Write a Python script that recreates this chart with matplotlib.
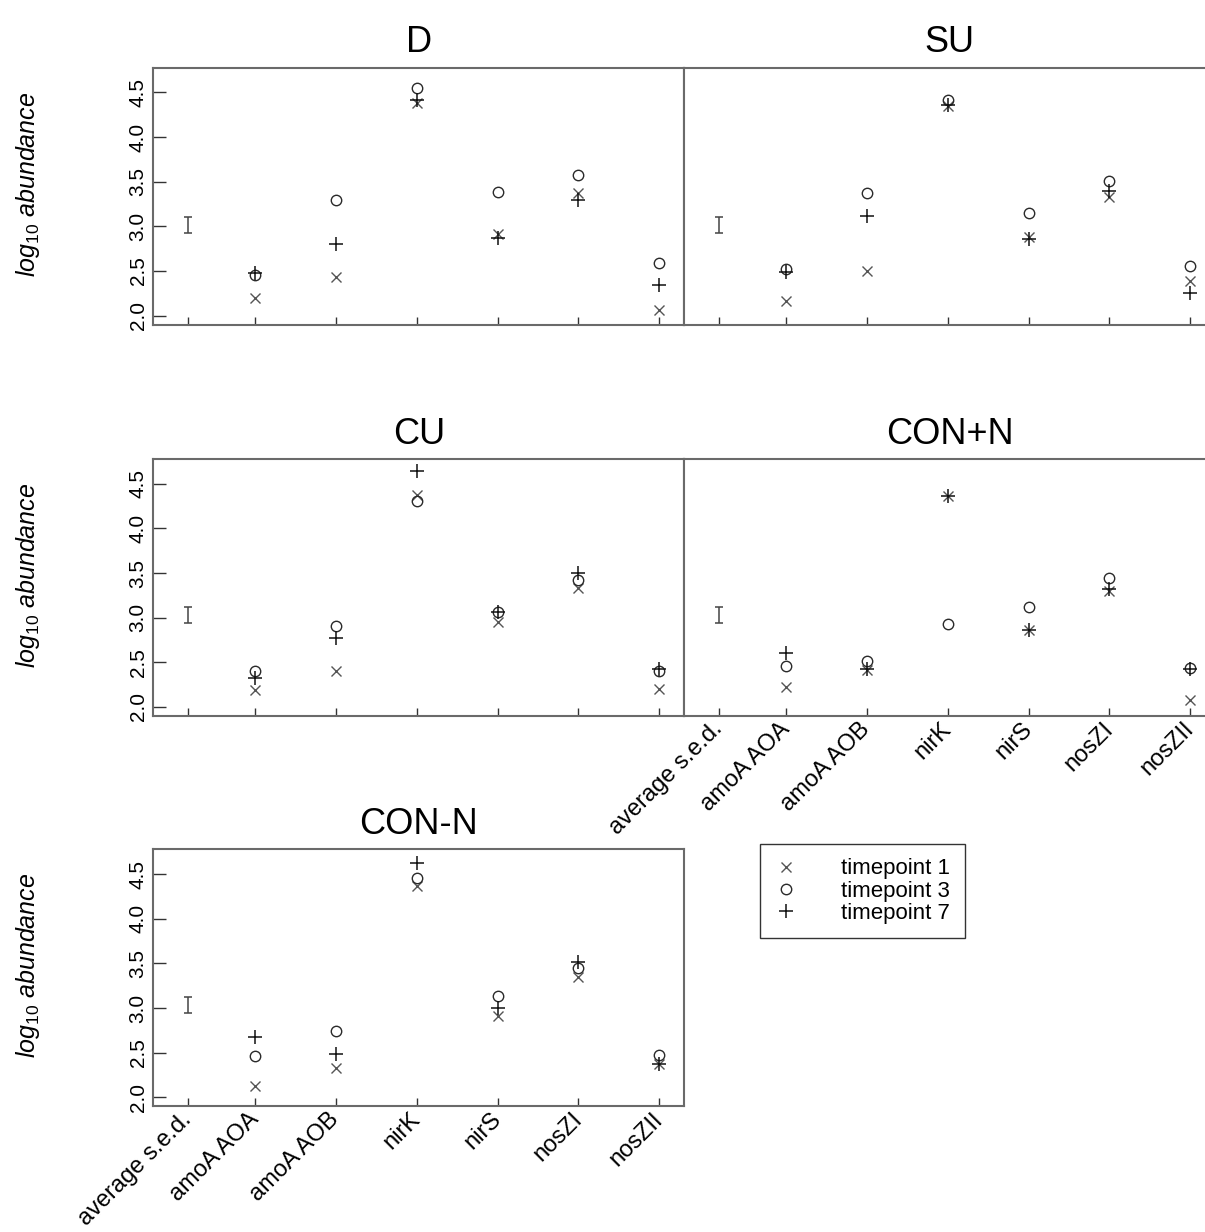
import matplotlib
matplotlib.use('Agg')
import matplotlib.pyplot as plt
from matplotlib.lines import Line2D

plt.rcParams['font.family'] = ['Liberation Sans', 'DejaVu Sans']
plt.rcParams['mathtext.fontset'] = 'custom'
plt.rcParams['mathtext.it'] = 'Liberation Sans:italic'
plt.rcParams['mathtext.rm'] = 'Liberation Sans'

# data
genes = ['average s.e.d.', 'amoA AOA', 'amoA AOB', 'nirK', 'nirS', 'nosZI', 'nosZII']
xpos = [0.175, 1, 2, 3, 4, 5, 6]
panels = ['D', 'SU', 'CU', 'CON+N', 'CON-N']
sed_mid = [3.02, 3.02, 3.03, 3.03, 3.03]
sed_half = [0.09, 0.09, 0.09, 0.09, 0.09]

d_t1 = [2.20, 2.43, 4.38, 2.92, 3.37, 2.06]
d_t3 = [2.455, 3.29, 4.545, 3.39, 3.575, 2.586]
d_t7 = [2.48, 2.80, 4.41, 2.87, 3.295, 2.34]

su_t1 = [2.17, 2.50, 4.35, 2.88, 3.33, 2.39]
su_t3 = [2.52, 3.37, 4.41, 3.15, 3.51, 2.56]
su_t7 = [2.485, 3.12, 4.36, 2.86, 3.40, 2.25]

cu_t1 = [2.19, 2.40, 4.37, 2.95, 3.33, 2.205]
cu_t3 = [2.40, 2.91, 4.31, 3.06, 3.42, 2.40]
cu_t7 = [2.32, 2.77, 4.64, 3.06, 3.50, 2.43]

conp_t1 = [2.22, 2.41, 4.36, 2.86, 3.30, 2.08]
conp_t3 = [2.455, 2.51, 2.93, 3.12, 3.44, 2.44]
conp_t7 = [2.60, 2.42, 4.36, 2.86, 3.32, 2.42]

conm_t1 = [2.13, 2.33, 4.37, 2.91, 3.35, 2.37]
conm_t3 = [2.46, 2.74, 4.46, 3.13, 3.45, 2.47]
conm_t7 = [2.68, 2.49, 4.62, 3.00, 3.51, 2.37]

series = [(d_t1, d_t3, d_t7), (su_t1, su_t3, su_t7), (cu_t1, cu_t3, cu_t7),
          (conp_t1, conp_t3, conp_t7), (conm_t1, conm_t3, conm_t7)]
legend_labels = ['timepoint 1', 'timepoint 3', 'timepoint 7']
yticks = [2.0, 2.5, 3.0, 3.5, 4.0, 4.5]

W, H = 1205, 1232
fig = plt.figure(figsize=(W / 100, H / 100), dpi=100)

# panel boxes in pixels: left, top
boxes = [(153.3, 67.7), (684.3, 67.7), (153.3, 459), (684.3, 459), (153.3, 849.3)]
bw, bh = 531, 257
show_ylab = [True, False, True, False, True]
show_xlab = [False, False, False, True, True]

edge = '#6a6a6a'
styles = [dict(marker='x', color='#555555', ms=7, mew=1.0),
          dict(marker='o', mfc='none', mec='#2a2a2a', ms=7.5, mew=1.0),
          dict(marker='+', color='#111111', ms=10, mew=1.1)]

for i, name in enumerate(panels):
    l, t = boxes[i]
    ax = fig.add_axes([l / W, 1 - (t + bh) / H, bw / W, bh / H])
    ax.set_xlim(-0.258, 6.309)
    ax.set_ylim(1.899, 4.777)
    for vals, st in zip(series[i], styles):
        ax.plot(xpos[1:], vals, ls='none', **st)
    ax.errorbar([xpos[0]], [sed_mid[i]], yerr=[sed_half[i]], fmt='none',
                ecolor='#444444', elinewidth=1.1, capsize=3, capthick=1.1)
    for s in ax.spines.values():
        s.set_color(edge)
        s.set_linewidth(1.5)
    ax.set_xticks(xpos)
    ax.tick_params(axis='x', direction='in', length=5.8, width=1.0, color='#333333')
    if show_xlab[i]:
        ax.set_xticklabels(genes, rotation=45, ha='right', va='center',
                           rotation_mode='anchor', fontsize=17)
        ax.tick_params(axis='x', pad=7)
    else:
        ax.set_xticklabels([])
    if show_ylab[i]:
        ax.set_yticks(yticks)
        ax.set_yticklabels(['%.1f' % v for v in yticks], rotation=90, va='center', fontsize=15)
        ax.tick_params(axis='y', direction='in', length=9.4, width=1.0, color='#333333', pad=4)
        fig.text(28 / W, 1 - (t + bh / 2 - 12) / H, r'$log_{10}\ abundance$',
                 rotation=90, ha='center', va='center', fontsize=18)
    else:
        ax.set_yticks([])
    ax.set_title(name, fontsize=26, pad=11)

handles = [Line2D([], [], ls='none', **st) for st in styles]
leg = fig.legend(handles, legend_labels, loc='upper left',
                 bbox_to_anchor=(760 / W, 1 - 844 / H), fontsize=16,
                 frameon=True, fancybox=False, borderaxespad=0,
                 handlelength=1.0, handletextpad=2.0, labelspacing=0.05,
                 borderpad=0.65)
leg.get_frame().set_edgecolor('black')
leg.get_frame().set_linewidth(1.0)

fig.savefig('out.png', dpi=100)
